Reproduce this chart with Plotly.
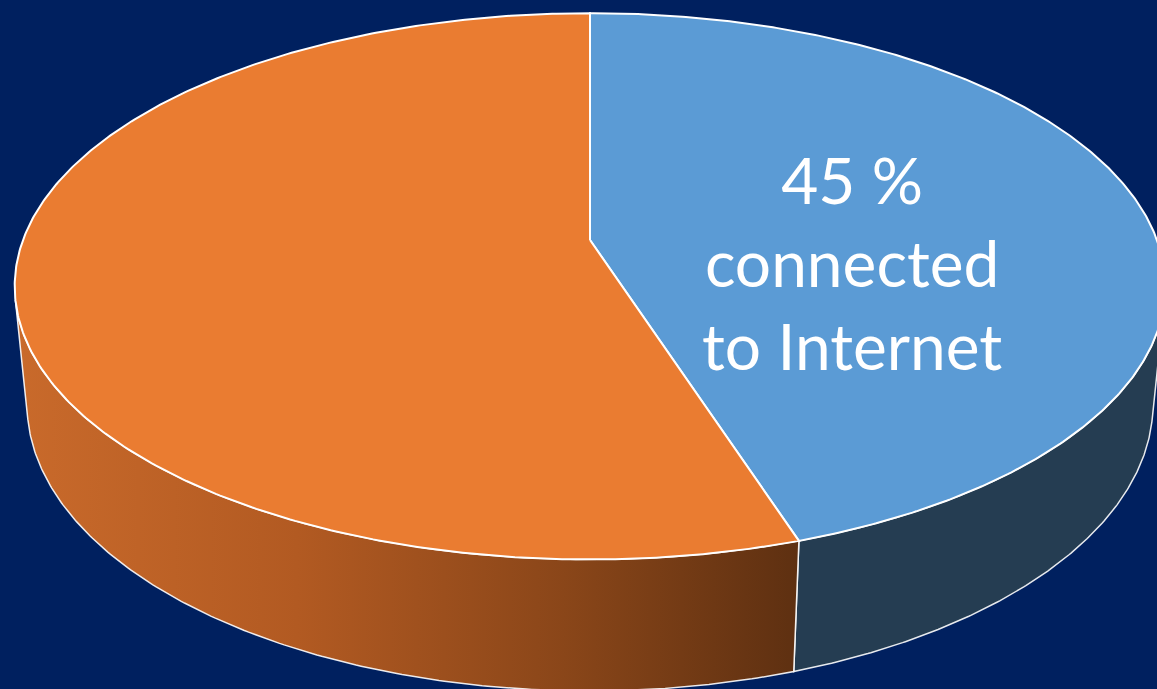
import numpy as np
import plotly.graph_objects as go

# ---- data ----
categories = ["Connected to Internet", "Not connected to Internet"]
values = [45, 55]
label_suffix = ["connected", "to Internet"]

# ---- style ----
top_colors = ["#5B9BD5", "#EA7C31"]
side_fill = ["#253D52", None]
side_gradient = [None, [[0.0, "#C96A2B"], [0.36, "#B25A22"], [0.7, "#8A4619"], [1.0, "#5E3011"]]]
BG = "#00205F"
W, H = 1157, 689

# ---- 3D pie projection (pixel space through the axes) ----
PHI = np.radians(27.9)
CP, SP = np.cos(PHI), np.sin(PHI)
DIST = 5.21
FOC = 2954.0
CX, CY = 590.0, 240.0
DEPTH = 0.237


def project(r, theta_deg, z):
    t = np.radians(theta_deg)
    x = r * np.sin(t)
    y = r * np.cos(t)
    yc = z * CP + y * SP
    zc = y * CP - z * SP + DIST
    return CX + FOC * x / zc, CY - FOC * yc / zc


# visible side range (outward normal facing the camera)
vis = np.degrees(np.arccos(-1.0 / (DIST * CP)))
vis_a, vis_b = vis, 360.0 - vis

total = float(sum(values))
bounds = np.concatenate([[0.0], np.cumsum(values) / total * 360.0])

fig = go.Figure()

# sides
for i, name in enumerate(categories):
    a, b = max(bounds[i], vis_a), min(bounds[i + 1], vis_b)
    if b <= a:
        continue
    th = np.linspace(a, b, 200)
    xt, yt = project(1.0, th, 0.0)
    xb, yb = project(1.0, th[::-1], -DEPTH)
    xs = np.concatenate([xt, xb, xt[:1]])
    ys = np.concatenate([yt, yb, yt[:1]])
    kw = dict(x=xs, y=ys, mode="lines", fill="toself",
              line=dict(color="rgba(255,255,255,0.9)", width=1.5),
              hoverinfo="skip", showlegend=False, name=name)
    if side_gradient[i] is not None:
        kw["fillgradient"] = dict(type="horizontal", colorscale=side_gradient[i])
    else:
        kw["fillcolor"] = side_fill[i]
    fig.add_trace(go.Scatter(**kw))

# top faces
for i, name in enumerate(categories):
    th = np.linspace(bounds[i], bounds[i + 1], 400)
    xa, ya = project(1.0, th, 0.0)
    x0, y0 = project(0.0, 0.0, 0.0)
    xs = np.concatenate([[x0], xa, [x0]])
    ys = np.concatenate([[y0], ya, [y0]])
    fig.add_trace(go.Scatter(x=xs, y=ys, mode="lines", fill="toself",
                             fillcolor=top_colors[i],
                             line=dict(color="white", width=2),
                             hoverinfo="skip", showlegend=False, name=name))

# label for first slice
mid = (bounds[0] + bounds[1]) / 2.0
lx, ly = project(0.47, mid, 0.0)
label = f"{values[0]} %<br>" + "<br>".join(label_suffix)
fig.add_annotation(x=lx + 2, y=ly + 42, xref="x", yref="y", text=label,
                   showarrow=False, align="center", xanchor="center", yanchor="middle",
                   font=dict(family="Lato", size=64, color="white"))

fig.update_layout(
    width=W, height=H, margin=dict(l=0, r=0, t=0, b=0),
    paper_bgcolor=BG, plot_bgcolor=BG,
    xaxis=dict(range=[0, W], visible=False, fixedrange=True),
    yaxis=dict(range=[H, 0], visible=False, fixedrange=True),
)

fig.write_html("out.html")
